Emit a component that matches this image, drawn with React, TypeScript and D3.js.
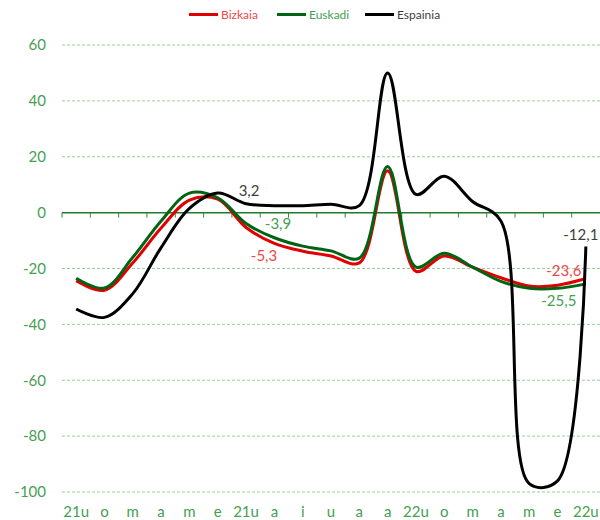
import React, { useEffect, useRef } from 'react';
import * as d3 from 'd3';

const labels = ['21u', 'o', 'm', 'a', 'm', 'e', '21u', 'a', 'i', 'u', 'a', 'a', '22u', 'o', 'm', 'a', 'm', 'e', '22u'];
const bizkaia = [-24.4, -27.8, -18, -5.5, 4.5, 4.8, -5.3, -11, -13.8, -15.5, -18, 15, -21, -15.5, -19.5, -23.3, -26.3, -26, -23.6];
const euskadi = [-23.5, -27, -16, -3, 7, 5.3, -3.9, -9, -12, -13.7, -16.3, 16.5, -19.5, -14.5, -19.5, -24.6, -27.1, -27.1, -25.5];
const espainia = [-34.5, -37.5, -29, -12.5, 1.5, 7, 3.2, 2.5, 2.5, 3, 2.5, 50, 6.5, 13, 4, -3, -97, -96, -12.1];
const yTicks = [60, 40, 20, 0, -20, -40, -60, -80, -100];

const App = () => {
  const svgRef = useRef<SVGSVGElement | null>(null);

  useEffect(() => {
    const svg = d3.select(svgRef.current);
    svg.selectAll('*').remove();
    const font = 'Lato, "Open Sans", sans-serif';

    const x = d3.scaleBand<number>()
      .domain(d3.range(labels.length))
      .range([62, 600])
      .padding(0);
    const cx = (i: number) => (x(i) as number) + x.bandwidth() / 2;

    const y = d3.scaleLinear().domain([-100, 60]).range([492, 45]);

    // gridlines
    svg.append('g')
      .selectAll('line')
      .data(yTicks.filter(d => d !== 0))
      .join('line')
      .attr('x1', 62)
      .attr('x2', 600)
      .attr('y1', d => y(d))
      .attr('y2', d => y(d))
      .attr('stroke', '#9ccc9c')
      .attr('stroke-width', 1)
      .attr('stroke-dasharray', '3,2');

    // y labels
    svg.append('g')
      .selectAll('text')
      .data(yTicks)
      .join('text')
      .attr('x', 46)
      .attr('y', d => y(d))
      .attr('dy', '0.35em')
      .attr('text-anchor', 'end')
      .attr('font-family', font)
      .attr('font-size', 15)
      .attr('fill', '#46a052')
      .text(d => d);

    // zero axis
    svg.append('line')
      .attr('x1', 62)
      .attr('x2', 600)
      .attr('y1', y(0))
      .attr('y2', y(0))
      .attr('stroke', '#1e7a2a')
      .attr('stroke-width', 1.5);

    svg.append('g')
      .selectAll('line')
      .data(d3.range(labels.length))
      .join('line')
      .attr('x1', d => x(d) as number)
      .attr('x2', d => x(d) as number)
      .attr('y1', y(0))
      .attr('y2', y(0) + 5)
      .attr('stroke', '#2e8b3e')
      .attr('stroke-width', 1);

    // x labels
    svg.append('g')
      .selectAll('text')
      .data(labels)
      .join('text')
      .attr('x', (_, i) => cx(i))
      .attr('y', 517)
      .attr('text-anchor', 'middle')
      .attr('font-family', font)
      .attr('font-size', 15)
      .attr('fill', '#46a052')
      .text(d => d);

    const line = d3.line<number>()
      .x((_, i) => cx(i))
      .y(d => y(d))
      .curve(d3.curveCatmullRom);

    const series = [
      { name: 'Bizkaia', values: bizkaia, color: '#e00000', text: '#f04848' },
      { name: 'Euskadi', values: euskadi, color: '#006414', text: '#46a052' },
      { name: 'Espainia', values: espainia, color: '#000000', text: '#404040' },
    ];

    series.forEach(s => {
      svg.append('path')
        .datum(s.values)
        .attr('fill', 'none')
        .attr('stroke', s.color)
        .attr('stroke-width', 3)
        .attr('stroke-linejoin', 'round')
        .attr('d', line);
    });

    // data labels
    const fmt = (v: number) => String(v).replace('.', ',');
    const ann = [
      { s: 2, i: 6, dx: 3, dy: -8 },
      { s: 1, i: 6, dx: 32, dy: 5 },
      { s: 0, i: 6, dx: 18, dy: 34 },
      { s: 2, i: 18, dx: -5, dy: -6 },
      { s: 0, i: 18, dx: -22, dy: -3 },
      { s: 1, i: 18, dx: -27, dy: 22 },
    ];
    svg.append('g')
      .selectAll('text')
      .data(ann)
      .join('text')
      .attr('x', d => cx(d.i) + d.dx)
      .attr('y', d => y(series[d.s].values[d.i]) + d.dy)
      .attr('text-anchor', 'middle')
      .attr('font-family', font)
      .attr('font-size', 15)
      .attr('fill', d => series[d.s].text)
      .text(d => fmt(series[d.s].values[d.i]));

    // legend
    const legendX = [189, 277, 365];
    const lg = svg.append('g');
    series.forEach((s, k) => {
      lg.append('line')
        .attr('x1', legendX[k])
        .attr('x2', legendX[k] + 29)
        .attr('y1', 14.5)
        .attr('y2', 14.5)
        .attr('stroke', s.color)
        .attr('stroke-width', 3);
      lg.append('text')
        .attr('x', legendX[k] + 32)
        .attr('y', 14.5)
        .attr('dy', '0.35em')
        .attr('font-family', font)
        .attr('font-size', 12)
        .attr('fill', s.text)
        .text(s.name);
    });
  }, []);

  return (
    <svg
      ref={svgRef}
      width={600}
      height={520}
      style={{ position: 'absolute', left: 0, top: 0, background: '#fff' }}
    ></svg>
  );
};

export default App;
